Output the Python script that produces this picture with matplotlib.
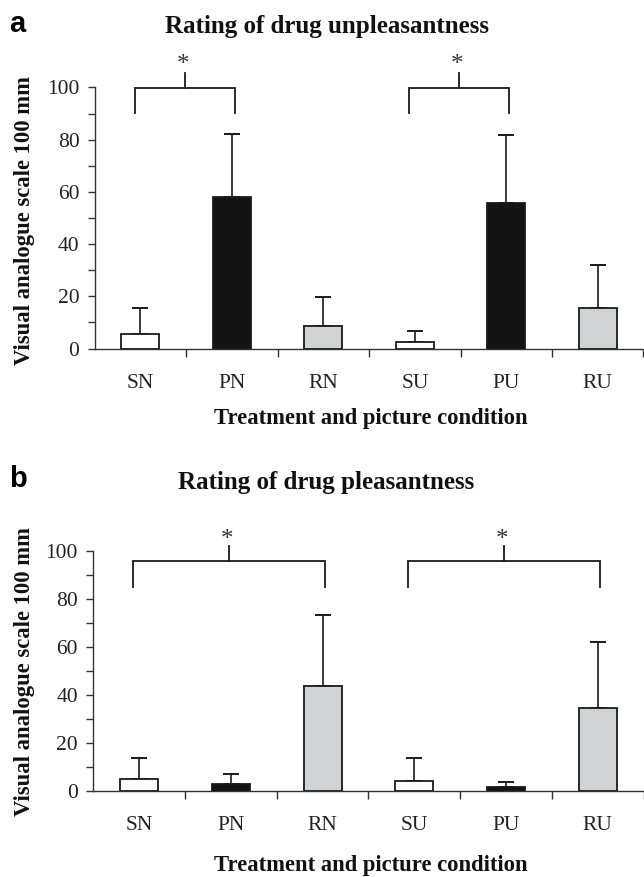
import matplotlib
matplotlib.use("Agg")
import matplotlib.pyplot as plt
import numpy as np

categories = ["SN", "PN", "RN", "SU", "PU", "RU"]
unpleasant_mean = [5.6, 58.0, 8.7, 2.5, 55.6, 15.6]
unpleasant_sd = [9.8, 24.3, 11.1, 4.2, 26.2, 16.3]
pleasant_mean = [5.1, 3.0, 43.9, 4.3, 1.7, 34.6]
pleasant_sd = [8.8, 4.2, 29.6, 9.6, 1.9, 27.4]
bar_colors = ["#ffffff", "#141414", "#d1d2d4", "#ffffff", "#141414", "#d1d2d4"]
y_major = [0, 20, 40, 60, 80, 100]
y_minor = [10, 30, 50, 70, 90]

# significance brackets: (left index, right index)
brackets_a = [(0, 1), (3, 4)]
brackets_b = [(0, 2), (3, 5)]

plt.rcParams["font.family"] = ["Liberation Serif", "DejaVu Serif"]

W, H = 644, 877
fig = plt.figure(figsize=(W / 100, H / 100), dpi=100)

INK = "#1a1a1a"


def panel(rect, means, sds, brackets, leg_y, bar_y, tick_y, star_y, offs):
    ax = fig.add_axes(rect)
    x = np.arange(len(categories))
    ax.bar(x, means, width=0.415, color=bar_colors, edgecolor=INK,
           linewidth=1.3, zorder=3)
    ax.errorbar(x, means, yerr=[np.zeros(len(sds)), sds], fmt="none",
                ecolor=INK, elinewidth=1.2, capsize=5.5, capthick=1.4,
                zorder=2)
    ax.set_xlim(-0.5, len(categories) - 0.5)
    ax.set_ylim(0, 100)
    for s in ["top", "right"]:
        ax.spines[s].set_visible(False)
    for s in ["left", "bottom"]:
        ax.spines[s].set_linewidth(1.0)
        ax.spines[s].set_color("#333333")
    ax.set_yticks(y_major)
    ax.set_yticks(y_minor, minor=True)
    ax.tick_params(axis="y", which="both", direction="out", length=5,
                   width=1.0, color="#333333", labelsize=15.5, pad=6,
                   labelcolor="#222222")
    ax.set_xticks(x)
    ax.set_xticklabels(categories)
    ax.set_xticks(np.arange(0.5, len(categories), 1.0), minor=True)
    ax.tick_params(axis="x", which="major", length=0, labelsize=15.5, pad=18,
                   labelcolor="#222222")
    ax.tick_params(axis="x", which="minor", direction="out", length=6,
                   width=1.0, color="#333333")
    for (i, j) in brackets:
        xl = i + offs[0]
        xr = j + offs[1]
        ax.plot([xl, xl, xr, xr], [leg_y, bar_y, bar_y, leg_y], color=INK,
                lw=1.3, clip_on=False, solid_joinstyle="miter")
        xm = (xl + xr) / 2
        ax.plot([xm, xm], [bar_y, tick_y], color=INK, lw=1.3, clip_on=False)
        ax.text(xm - 0.02, star_y, "*", ha="center", va="center",
                fontsize=18, color="#333333", clip_on=False)
    return ax


ax_a = panel([94.7 / W, 1 - 348.5 / H, (643.5 - 94.7) / W, (348.5 - 87.4) / H],
             unpleasant_mean, unpleasant_sd, brackets_a,
             90.2, 99.8, 105.7, 108.5, (-0.06, 0.03))
ax_b = panel([93.3 / W, 1 - 791 / H, (643.5 - 93.3) / W, 240 / H],
             pleasant_mean, pleasant_sd, brackets_b,
             85.1, 96.0, 102.0, 104.5, (-0.07, 0.03))

# titles, panel letters, axis labels
fig.text(327 / W, 1 - 27 / H, "Rating of drug unpleasantness", ha="center",
         va="center", fontsize=18, fontweight="bold", color="#111111")
fig.text(326.5 / W, 1 - 482 / H, "Rating of drug pleasantness", ha="center",
         va="center", fontsize=18, fontweight="bold", color="#111111")
fig.text(9 / W, 1 - 24 / H, "a", ha="left", va="center", fontsize=21,
         fontweight="bold", family=["Liberation Sans", "DejaVu Sans"])
fig.text(9 / W, 1 - 479 / H, "b", ha="left", va="center", fontsize=21,
         fontweight="bold", family=["Liberation Sans", "DejaVu Sans"])
fig.text(371 / W, 1 - 418 / H, "Treatment and picture condition", ha="center",
         va="center", fontsize=16.3, fontweight="bold", color="#111111")
fig.text(371 / W, 1 - 865 / H, "Treatment and picture condition", ha="center",
         va="center", fontsize=16.3, fontweight="bold", color="#111111")
fig.text(25 / W, 1 - 220 / H, "Visual analogue scale 100 mm", ha="center",
         va="center", rotation=90, fontsize=16.3, fontweight="bold",
         color="#111111")
fig.text(25 / W, 1 - 671 / H, "Visual analogue scale 100 mm", ha="center",
         va="center", rotation=90, fontsize=16.3, fontweight="bold",
         color="#111111")

fig.savefig("out.png", dpi=100)
